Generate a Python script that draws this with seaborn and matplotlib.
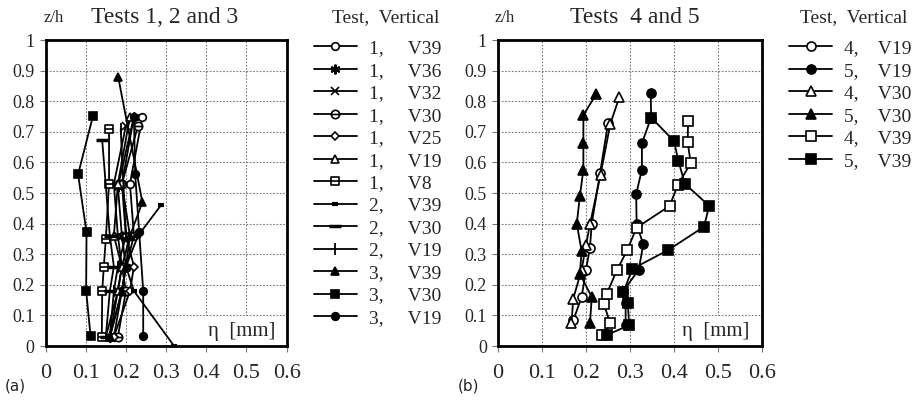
import numpy as np
import matplotlib
matplotlib.use("Agg")
import matplotlib.pyplot as plt
import seaborn as sns
from matplotlib.path import Path
from matplotlib.ticker import FuncFormatter, MultipleLocator

# ==============================================================================
# Datos (eta en mm, z/h adimensional)
# ==============================================================================
tests_a = ["1", "1", "1", "1", "1", "1", "1", "2", "2", "2", "3", "3", "3"]
verts_a = ["V39", "V36", "V32", "V30", "V25", "V19", "V8", "V39", "V30", "V19", "V39", "V30", "V19"]
eta_a = [
    [0.17, 0.19, 0.20, 0.22, 0.21, 0.241],
    [0.16, 0.19, 0.20, 0.19, 0.18, 0.22],
    [0.15, 0.18, 0.19, 0.18, 0.17, 0.20],
    [0.18, 0.20, 0.19, 0.21, 0.19, 0.23],
    [0.17, 0.21, 0.22, 0.20, 0.19, 0.22],
    [0.16, 0.18, 0.19, 0.17, 0.18, 0.21],
    [0.14, 0.141, 0.145, 0.15, 0.158, 0.158],
    [0.32, 0.22, 0.20, 0.23, 0.287],
    [0.15, 0.16, 0.17, 0.16, 0.141],
    [0.16, 0.17, 0.18, 0.20, 0.187],
    [0.16, 0.19, 0.20, 0.21, 0.241, 0.181],
    [0.112, 0.101, 0.102, 0.081, 0.118],
    [0.243, 0.243, 0.233, 0.223, 0.22],
]
zh_a = [
    [0.03, 0.18, 0.26, 0.36, 0.53, 0.75],
    [0.03, 0.18, 0.26, 0.36, 0.52, 0.75],
    [0.03, 0.18, 0.26, 0.36, 0.53, 0.72],
    [0.03, 0.18, 0.26, 0.36, 0.53, 0.72],
    [0.03, 0.18, 0.26, 0.36, 0.53, 0.75],
    [0.03, 0.18, 0.26, 0.36, 0.53, 0.75],
    [0.03, 0.18, 0.26, 0.35, 0.53, 0.71],
    [0.0, 0.18, 0.26, 0.36, 0.46],
    [0.03, 0.18, 0.26, 0.36, 0.672],
    [0.03, 0.18, 0.26, 0.36, 0.71],
    [0.03, 0.18, 0.26, 0.36, 0.47, 0.878],
    [0.033, 0.181, 0.372, 0.561, 0.752],
    [0.033, 0.181, 0.372, 0.561, 0.75],
]

tests_b = ["4", "5", "4", "5", "4", "5"]
verts_b = ["V19", "V19", "V30", "V30", "V39", "V39"]
eta_b = [
    [0.171, 0.19, 0.20, 0.209, 0.213, 0.232, 0.25],
    [0.29, 0.29, 0.285, 0.32, 0.33, 0.315, 0.314, 0.327, 0.327, 0.348, 0.347],
    [0.167, 0.171, 0.19, 0.20, 0.209, 0.233, 0.255, 0.276],
    [0.209, 0.213, 0.186, 0.19, 0.179, 0.186, 0.194, 0.194, 0.194, 0.223],
    [0.236, 0.255, 0.24, 0.247, 0.27, 0.294, 0.315, 0.39, 0.408, 0.438, 0.431, 0.432],
    [0.247, 0.298, 0.295, 0.285, 0.305, 0.387, 0.468, 0.48, 0.425, 0.41, 0.40, 0.348],
]
zh_b = [
    [0.084, 0.16, 0.25, 0.322, 0.40, 0.566, 0.728],
    [0.07, 0.14, 0.18, 0.25, 0.333, 0.398, 0.496, 0.577, 0.663, 0.747, 0.826],
    [0.074, 0.155, 0.25, 0.33, 0.398, 0.56, 0.725, 0.815],
    [0.074, 0.16, 0.236, 0.31, 0.40, 0.49, 0.577, 0.663, 0.755, 0.823],
    [0.036, 0.075, 0.139, 0.171, 0.247, 0.315, 0.387, 0.458, 0.525, 0.598, 0.666, 0.736],
    [0.036, 0.068, 0.14, 0.176, 0.252, 0.314, 0.39, 0.458, 0.53, 0.604, 0.67, 0.747],
]

# ==============================================================================
# Marcadores
# ==============================================================================
circ_line = Path.make_compound_path(Path.unit_circle(),
                                    Path([[-1, 0], [1, 0]], [Path.MOVETO, Path.LINETO]))
sq = Path([[-1, -1], [1, -1], [1, 1], [-1, 1], [-1, -1]],
          [Path.MOVETO, Path.LINETO, Path.LINETO, Path.LINETO, Path.CLOSEPOLY])
sq_line = Path.make_compound_path(sq, Path([[-1, 0], [1, 0]], [Path.MOVETO, Path.LINETO]))

W = "white"
K = "black"
estilo_a = [
    dict(marker="o", mfc=W, ms=5.5),
    dict(marker=(6, 2, 0), mfc=K, ms=7, mew=1.5),
    dict(marker="x", mfc=K, ms=5.5, mew=1.2),
    dict(marker=circ_line, mfc=W, ms=6),
    dict(marker="D", mfc=W, ms=4.5),
    dict(marker="^", mfc=W, ms=6),
    dict(marker=sq_line, mfc=W, ms=5.5),
    dict(marker="_", mfc=K, ms=5, mew=3),
    dict(marker="_", mfc=K, ms=8, mew=2.5),
    dict(marker="|", mfc=K, ms=8, mew=1.3),
    dict(marker="^", mfc=K, ms=6),
    dict(marker="s", mfc=K, ms=5.5),
    dict(marker="o", mfc=K, ms=5.5),
]
estilo_b = [
    dict(marker="o", mfc=W, ms=6.5),
    dict(marker="o", mfc=K, ms=6.5),
    dict(marker="^", mfc=W, ms=7.5),
    dict(marker="^", mfc=K, ms=7.5),
    dict(marker="s", mfc=W, ms=6.5),
    dict(marker="s", mfc=K, ms=6.5),
]

sns.set_style("white")
plt.rcParams["font.family"] = ["Liberation Serif", "DejaVu Serif"]

fig = plt.figure(figsize=(9.18, 4.01), dpi=100)
ax_a = fig.add_axes([0.0496, 0.137, 0.2627, 0.763])
ax_b = fig.add_axes([0.5425, 0.137, 0.2876, 0.763])


def dibujar(ax, tests, verts, etas, zhs, estilos, espacios):
    handles = []
    for t, v, x, y, st in zip(tests, verts, etas, zhs, estilos):
        sns.lineplot(x=x, y=y, sort=False, estimator=None, color=K, lw=1.3,
                     marker=st["marker"], markerfacecolor=st["mfc"], markeredgecolor=K,
                     markersize=st["ms"], markeredgewidth=st.get("mew", 1.2), ax=ax,
                     zorder=3)
        handles.append(ax.get_lines()[-1])
    ax.set_xlim(0, 0.6)
    ax.set_ylim(0, 1)
    ax.xaxis.set_major_locator(MultipleLocator(0.1))
    ax.yaxis.set_major_locator(MultipleLocator(0.1))
    fmt = FuncFormatter(lambda v, p: "%g" % round(v, 2))
    ax.xaxis.set_major_formatter(fmt)
    ax.yaxis.set_major_formatter(fmt)
    ax.grid(True, color="#777777", linestyle=(0, (1.5, 1.5)), linewidth=0.8)
    ax.tick_params(axis="both", direction="out", length=4, width=0.8,
                   bottom=True, left=True, color="#777777")
    ax.tick_params(axis="x", labelsize=16, pad=9)
    ax.tick_params(axis="y", labelsize=13, pad=4)
    for s in ax.spines.values():
        s.set_linewidth(2)
        s.set_color(K)
    ax.set_xlabel("")
    ax.set_ylabel("")
    labels = [t + "," + " " * espacios + v for t, v in zip(tests, verts)]
    # etiqueta eta con fondo blanco que tapa la rejilla
    ax.text(0.572, 0.046, "η  [mm]", ha="right", va="center", fontsize=15, zorder=2,
            bbox=dict(facecolor="white", edgecolor="none", pad=5))
    return handles, labels


h_a, l_a = dibujar(ax_a, tests_a, verts_a, eta_a, zh_a, estilo_a, 5)
h_b, l_b = dibujar(ax_b, tests_b, verts_b, eta_b, zh_b, estilo_b, 4)

fig.text(0.047, 0.955, "z/h", fontsize=12, va="center")
fig.text(0.179, 0.957, "Tests 1, 2 and 3", fontsize=17, va="center", ha="center")
fig.text(0.539, 0.955, "z/h", fontsize=12, va="center")
fig.text(0.692, 0.957, "Tests  4 and 5", fontsize=17, va="center", ha="center")
fig.text(0.005, 0.037, "(a)", fontsize=11, va="center", family="DejaVu Sans")
fig.text(0.499, 0.037, "(b)", fontsize=11, va="center", family="DejaVu Sans")

# encabezados de las leyendas
fig.text(0.362, 0.955, "Test,  Vertical", fontsize=14, va="center")
fig.text(0.872, 0.955, "Test,  Vertical", fontsize=14, va="center")

leg_a = fig.legend(h_a, l_a, loc="upper left", bbox_to_anchor=(0.327, 0.935), frameon=False,
                   fontsize=14, handlelength=2.2, labelspacing=0.25, handletextpad=0.65,
                   borderpad=0.2)
leg_b = fig.legend(h_b, l_b, loc="upper left", bbox_to_anchor=(0.845, 0.935), frameon=False,
                   fontsize=14, handlelength=2.2, labelspacing=0.25, handletextpad=0.6,
                   borderpad=0.2)

fig.savefig("out.png", dpi=100)
